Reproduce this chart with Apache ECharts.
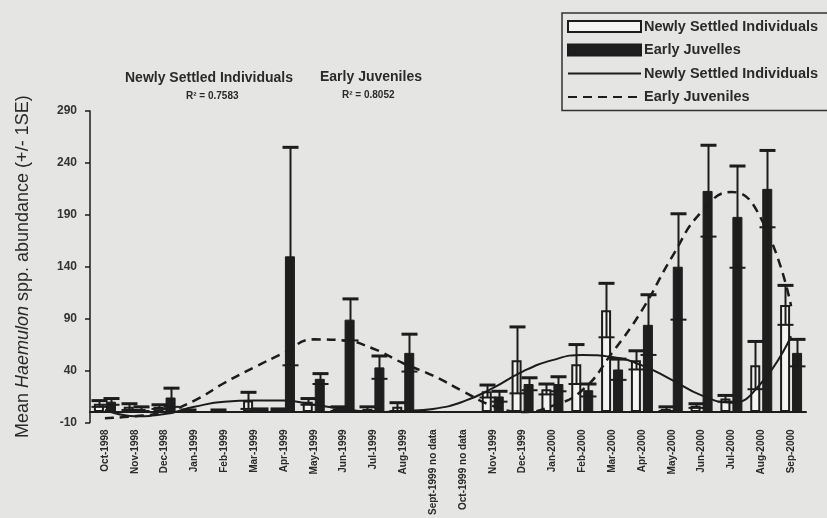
<!DOCTYPE html>
<html>
<head>
<meta charset="utf-8">
<script src="https://cdn.jsdelivr.net/npm/echarts@6/dist/echarts.min.js"></script>
<style>
  html, body { margin: 0; padding: 0; background: #e5e5e3; }
  #chart { width: 827px; height: 518px; }
</style>
</head>
<body>
<div id="chart"></div>
<script>
// Monthly sampling periods (two months without surveys)
const months = ['Oct-1998','Nov-1998','Dec-1998','Jan-1999','Feb-1999','Mar-1999','Apr-1999','May-1999',
  'Jun-1999','Jul-1999','Aug-1999','Sept-1999 no data','Oct-1999 no data','Nov-1999','Dec-1999',
  'Jan-2000','Feb-2000','Mar-2000','Apr-2000','May-2000','Jun-2000','Jul-2000','Aug-2000','Sep-2000'];

// Mean abundance and standard error, newly settled individuals
const settledMean = [8, 5, 5, 1, 1, 11, 2, 10, 3, 3, 5, null, null, 20, 50, 22, 46, 98, 50, 3, 6, 13, 45, 103];
const settledSE   = [3, 3, 2, 1, 1, 8, 1, 3, 2, 2, 4, null, null, 6, 32, 5, 19, 26, 9, 2, 2, 3, 23, 19];

// Mean abundance and standard error, early juveniles
const juvMean = [10, 3, 14, 0, 0, 2, 150, 32, 89, 43, 57, null, null, 15, 27, 27, 21, 41, 84, 140, 213, 188, 215, 57];
const juvSE   = [3, 2, 9, 0, 0, 1, 105, 5, 20, 11, 18, null, null, 5, 6, 7, 6, 10, 29, 51, 44, 49, 37, 13];

// Polynomial trend values at each month
const settledTrend = [2, -4, -2, 5, 10, 11, 11, 7, 3, 0, 1, 3, 10, 23, 39, 50, 55, 53, 45, 31, 16, 9, 28, 73];
const juvTrend     = [-6, -4, 0, 11, 28, 43, 57, 70, 69, 61, 47, 35, 20, 6, 0, 6, 21, 57, 98, 149, 193, 212, 186, 102];

// Axis ticks and labels
const yTicks = { min: -10, max: 290, step: 50 };
const legendLabels = ['Newly Settled Individuals', 'Early Juvelles', 'Newly Settled Individuals', 'Early Juveniles'];
const fitLabels = [
  { title: 'Newly Settled Individuals', r2: 'R\u00B2 = 0.7583' },
  { title: 'Early Juveniles', r2: 'R\u00B2 = 0.8052' }
];

const FONT = '"Liberation Sans", Arial, sans-serif';
const INK = '#1c1c1c';
const BAR_W = 10;
const BAR_OFF = 6;   // half distance between the two bar centres
const CAP = 8;       // half width of an error bar cap

function errorBars(id, means, ses, side) {
  const rows = [];
  means.forEach((m, i) => { if (m != null) rows.push([i, m, ses[i]]); });
  return {
    type: 'custom',
    id: id,
    z: 5,
    silent: true,
    data: rows,
    renderItem(params, api) {
      const i = api.value(0), m = api.value(1), s = api.value(2);
      if (!s) return null;
      const hi = api.coord([i, m + s]);
      const lo = api.coord([i, Math.max(m - s, 0)]);
      const x = Math.round(hi[0] + side * BAR_OFF) + 0.5;
      const st = { stroke: INK, lineWidth: 2 };
      return {
        type: 'group',
        children: [
          { type: 'line', shape: { x1: x, y1: hi[1], x2: x, y2: lo[1] }, style: st },
          { type: 'line', shape: { x1: x - CAP, y1: hi[1], x2: x + CAP, y2: hi[1] }, style: { stroke: INK, lineWidth: 3 } },
          { type: 'line', shape: { x1: x - CAP, y1: lo[1], x2: x + CAP, y2: lo[1] }, style: st }
        ]
      };
    }
  };
}

const chart = echarts.init(document.getElementById('chart'), null, { renderer: 'canvas' });

// Fit captions above the plot: title line and R² line
const graphics = [];
const fitPos = [[125, 71, 186, 91], [320, 70, 342, 90]];
fitLabels.forEach((f, k) => {
  graphics.push({ type: 'text', left: fitPos[k][0], top: fitPos[k][1], style: {
    text: f.title, font: 'bold 14px ' + FONT, fill: '#2a2a2a' } });
  graphics.push({ type: 'text', left: fitPos[k][2], top: fitPos[k][3], style: {
    text: f.r2, font: 'bold 10px ' + FONT, fill: '#2a2a2a' } });
});

chart.setOption({
  backgroundColor: '#e5e5e3',
  animation: false,
  textStyle: { fontFamily: FONT },
  grid: { left: 90, right: 21, top: 111, bottom: 77 },
  legend: {
    orient: 'vertical',
    left: 562, top: 13,
    padding: [6, 220, 6, 5],
    itemWidth: 73, itemHeight: 11, itemGap: 8.5,
    borderColor: '#333', borderWidth: 1.5,
    textStyle: { fontSize: 14.5, fontWeight: 'bold', color: '#2a2a2a', fontFamily: FONT, padding: [0, 0, 0, -2] },
    data: [
      { name: 'settledBar', icon: 'rect' },
      { name: 'juvBar', icon: 'rect' },
      { name: 'settledFit', itemStyle: { opacity: 0 } },
      { name: 'juvFit', itemStyle: { opacity: 0 } }
    ],
    formatter: name => legendLabels[['settledBar', 'juvBar', 'settledFit', 'juvFit'].indexOf(name)]
  },
  xAxis: {
    type: 'category',
    data: months,
    axisLine: { onZero: true, lineStyle: { color: INK, width: 2 } },
    axisTick: { show: false },
    axisLabel: { rotate: 90, fontSize: 10, fontWeight: 'bold', color: '#2a2a2a', margin: 7, interval: 0 }
  },
  yAxis: {
    type: 'value',
    min: yTicks.min, max: yTicks.max, interval: yTicks.step,
    name: 'Mean {it|Haemulon} spp. abundance (+/- 1SE)',
    nameLocation: 'middle',
    nameGap: 58,
    nameTextStyle: { fontSize: 18, color: '#2a2a2a', fontFamily: FONT,
      rich: { it: { fontSize: 18, fontStyle: 'italic', color: '#2a2a2a', fontFamily: FONT } } },
    splitLine: { show: false },
    axisLine: { show: true, lineStyle: { color: INK, width: 1.5 } },
    axisTick: { show: true, length: 5, inside: false, lineStyle: { color: INK, width: 1.5 } },
    axisLabel: { fontSize: 12, fontWeight: 'bold', color: '#333', margin: 13 }
  },
  graphic: graphics,
  series: [
    {
      name: 'settledBar', type: 'bar', data: settledMean, barWidth: BAR_W, barGap: '20%',
      itemStyle: { color: '#f4f4f2', borderColor: INK, borderWidth: 2 }, z: 2
    },
    {
      name: 'juvBar', type: 'bar', data: juvMean, barWidth: BAR_W,
      itemStyle: { color: '#1e1e1e', borderColor: INK, borderWidth: 1 }, z: 2
    },
    errorBars('settledErr', settledMean, settledSE, -1),
    errorBars('juvErr', juvMean, juvSE, 1),
    {
      name: 'settledFit', type: 'line', data: settledTrend, smooth: 0.5, symbol: 'none', z: 6,
      lineStyle: { color: INK, width: 2 }, itemStyle: { color: INK }
    },
    {
      name: 'juvFit', type: 'line', data: juvTrend, smooth: 0.5, symbol: 'none', z: 6,
      lineStyle: { color: INK, width: 2.5, type: [9, 6] }, itemStyle: { color: INK }
    }
  ]
});
</script>
</body>
</html>
